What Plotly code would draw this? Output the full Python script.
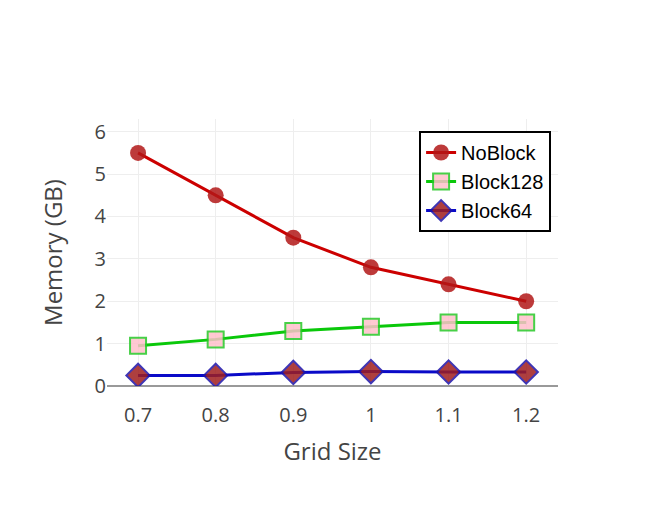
import plotly.graph_objects as go

# Memory usage by grid size
grid_size = [0.7, 0.8, 0.9, 1.0, 1.1, 1.2]
no_block = [5.5, 4.5, 3.5, 2.8, 2.4, 2.0]
block128 = [0.95, 1.1, 1.3, 1.4, 1.5, 1.5]
block64 = [0.25, 0.25, 0.32, 0.34, 0.33, 0.33]
tick_text = ['0.7', '0.8', '0.9', '1', '1.1', '1.2']

fig = go.Figure()

fig.add_trace(go.Scatter(
    x=grid_size, y=no_block, mode='lines+markers', name='NoBlock',
    line=dict(color='rgb(204,0,0)', width=3),
    marker=dict(symbol='circle', size=16, color='rgb(178,24,24)', opacity=0.85)
))
fig.add_trace(go.Scatter(
    x=grid_size, y=block128, mode='lines+markers', name='Block128',
    line=dict(color='rgb(10,200,10)', width=3),
    marker=dict(symbol='square', size=16, color='pink', opacity=0.85,
                line=dict(color='rgb(40,200,40)', width=2))
))
fig.add_trace(go.Scatter(
    x=grid_size, y=block64, mode='lines+markers', name='Block64',
    line=dict(color='rgb(10,10,200)', width=3),
    marker=dict(symbol='diamond', size=18, color='rgb(160,30,30)', opacity=0.85,
                line=dict(color='rgb(30,20,170)', width=2))
))

fig.update_xaxes(
    title=dict(text='Grid Size', font=dict(size=24, color='#444'), standoff=16),
    range=[0.66, 1.241], tickvals=grid_size, ticktext=tick_text,
    tickfont=dict(size=20, color='#444'),
    ticks='outside', ticklen=11, tickcolor='rgba(0,0,0,0)',
    gridcolor='#eee', zeroline=False, showline=False, automargin=False
)
fig.update_yaxes(
    title=dict(text='Memory (GB)', font=dict(size=24, color='#444'), standoff=25),
    range=[0, 6.3], dtick=1,
    tickfont=dict(size=20, color='#444'),
    gridcolor='#eee', zeroline=True, zerolinecolor='#999', zerolinewidth=1.5,
    automargin=False
)

fig.update_layout(
    width=664, height=513,
    margin=dict(l=99, r=114, t=111, b=135),
    paper_bgcolor='white', plot_bgcolor='white',
    font=dict(family='Open Sans, sans-serif'),
    legend=dict(
        x=0.692, y=0.955, xanchor='left', yanchor='top',
        bordercolor='black', borderwidth=2, bgcolor='white',
        font=dict(family='Liberation Sans, Arial, sans-serif', size=20, color='black'),
        itemwidth=30
    ),
    showlegend=True
)

fig.write_html("out.html")
